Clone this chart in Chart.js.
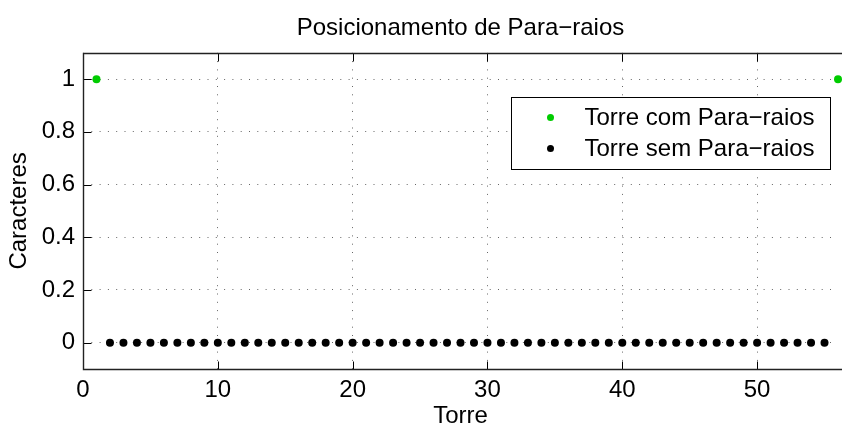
<!DOCTYPE html>
<html>
<head>
<meta charset="utf-8">
<script src="https://cdn.jsdelivr.net/npm/chart.js@4"></script>
<style>
  html, body { margin: 0; padding: 0; background: #fff; }
  #wrap { width: 842px; height: 424px; }
</style>
</head>
<body>
<div id="wrap"><canvas id="chart"></canvas></div>
<script>
// dados
const torresCom = [1, 56];
const valoresCom = [1, 1];
const torresSem = [2, 3, 4, 5, 6, 7, 8, 9, 10, 11, 12, 13, 14, 15, 16, 17, 18, 19, 20,
  21, 22, 23, 24, 25, 26, 27, 28, 29, 30, 31, 32, 33, 34, 35, 36, 37, 38, 39, 40,
  41, 42, 43, 44, 45, 46, 47, 48, 49, 50, 51, 52, 53, 54, 55];
const valoresSem = [0, 0, 0, 0, 0, 0, 0, 0, 0, 0, 0, 0, 0, 0, 0, 0, 0, 0, 0,
  0, 0, 0, 0, 0, 0, 0, 0, 0, 0, 0, 0, 0, 0, 0, 0, 0, 0, 0, 0,
  0, 0, 0, 0, 0, 0, 0, 0, 0, 0, 0, 0, 0, 0, 0];
const xTicks = [0, 10, 20, 30, 40, 50];
const yTicks = [0, 0.2, 0.4, 0.6, 0.8, 1];

const FONT = "'Liberation Sans', Arial, Helvetica, sans-serif";

const toPoints = (xs, ys) => xs.map((x, i) => ({ x: x, y: ys[i] }));

// eixos (a borda direita fica fora do recorte), ticks para dentro e legenda estilo MATLAB
const matlabBox = {
  id: "matlabBox",
  beforeDatasetsDraw(chart) {
    const { ctx, chartArea: a, scales } = chart;
    const l = Math.round(a.left) + 0.5;
    const t = Math.round(a.top) + 0.5;
    const b = Math.round(a.bottom) + 0.5;
    ctx.save();
    ctx.strokeStyle = "#000";
    ctx.lineWidth = 1;
    ctx.beginPath();
    xTicks.forEach((v) => {
      const px = Math.round(scales.x.getPixelForValue(v)) + 0.5;
      ctx.moveTo(px, b); ctx.lineTo(px, b - 8);
      ctx.moveTo(px, t); ctx.lineTo(px, t + 8);
    });
    yTicks.forEach((v) => {
      const py = Math.round(scales.y.getPixelForValue(v)) + 0.5;
      ctx.moveTo(l, py); ctx.lineTo(l + 8, py);
    });
    ctx.stroke();
    ctx.strokeStyle = "#222";
    ctx.lineWidth = 1.4;
    ctx.beginPath();
    ctx.moveTo(chart.width, t); ctx.lineTo(l, t); ctx.lineTo(l, b); ctx.lineTo(chart.width, b);
    ctx.stroke();
    ctx.restore();
  },
  afterDraw(chart) {
    const { ctx, chartArea: a } = chart;
    const w = 319, h = 72;
    const left = Math.round(a.right - 8 - w) + 0.5;
    const top = Math.round(a.top + 44) + 0.5;
    ctx.save();
    ctx.fillStyle = "#fff";
    ctx.fillRect(left, top, w, h);
    ctx.strokeStyle = "#000";
    ctx.lineWidth = 1;
    ctx.strokeRect(left, top, w, h);
    ctx.font = "24px " + FONT;
    ctx.textBaseline = "middle";
    ctx.textAlign = "left";
    chart.data.datasets.forEach((ds, i) => {
      const cy = top + 20 + i * 31;
      ctx.fillStyle = ds.backgroundColor;
      ctx.beginPath();
      ctx.arc(left + 39, cy, 3.5, 0, Math.PI * 2);
      ctx.fill();
      ctx.fillStyle = "#000";
      ctx.fillText(ds.label, left + 73, cy + 1);
    });
    ctx.restore();
  },
};

new Chart(document.getElementById("chart"), {
  type: "scatter",
  data: {
    datasets: [
      {
        label: "Torre com Para\u2212raios",
        data: toPoints(torresCom, valoresCom),
        backgroundColor: "#00cc00",
        borderColor: "#00cc00",
        pointRadius: 4,
        borderWidth: 0,
        clip: false,
      },
      {
        label: "Torre sem Para\u2212raios",
        data: toPoints(torresSem, valoresSem),
        backgroundColor: "#000",
        borderColor: "#000",
        pointRadius: 4,
        borderWidth: 0,
        clip: false,
      },
    ],
  },
  options: {
    responsive: true,
    maintainAspectRatio: false,
    animation: false,
    layout: { padding: { right: 3 } },
    plugins: {
      legend: { display: false },
      tooltip: { enabled: false },
      title: {
        display: true,
        fullSize: false,
        text: "Posicionamento de Para\u2212raios",
        color: "#000",
        font: { family: FONT, size: 24, weight: "normal" },
        padding: { top: 14, bottom: 10 },
      },
    },
    scales: {
      x: {
        type: "linear",
        min: 0,
        max: 56,
        afterBuildTicks: (s) => { s.ticks = xTicks.map((v) => ({ value: v })); },
        afterFit: (s) => { s.height = 55; },
        grid: { color: "#666", drawTicks: false },
        border: { display: false, dash: [1, 7.3] },
        ticks: { color: "#000", padding: 7, maxRotation: 0, font: { family: FONT, size: 24 } },
        title: {
          display: true,
          text: "Torre",
          color: "#000",
          font: { family: FONT, size: 24 },
          padding: { top: 0, bottom: -7 },
        },
      },
      y: {
        min: -0.1,
        max: 1.1,
        afterBuildTicks: (s) => { s.ticks = yTicks.map((v) => ({ value: v })); },
        afterFit: (s) => { s.width = 83; },
        grid: { color: "#666", drawTicks: false },
        border: { display: false, dash: [1, 7.3] },
        ticks: {
          color: "#000",
          padding: 8,
          font: { family: FONT, size: 24 },
          callback: (v) => String(Number(v.toFixed(1))),
        },
        title: {
          display: true,
          text: "Caracteres",
          color: "#000",
          font: { family: FONT, size: 24 },
          padding: { top: 5, bottom: 0 },
        },
      },
    },
  },
  plugins: [matlabBox],
});
</script>
</body>
</html>
